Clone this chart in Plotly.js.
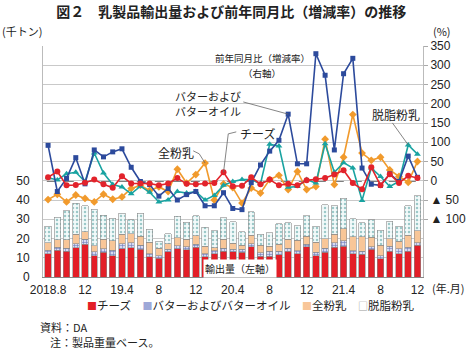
<!DOCTYPE html>
<html><head><meta charset="utf-8">
<script src="https://cdn.plot.ly/plotly-3.0.1.min.js"></script>
<style>html,body{margin:0;padding:0;background:#fff}</style>
</head><body>
<div id="chart" style="width:467px;height:350px"></div>
<script>
// months 2018.8 - 2021.12
const categories = ["2018.08","2018.09","2018.10","2018.11","2018.12",
"2019.01","2019.02","2019.03","2019.04","2019.05","2019.06","2019.07","2019.08","2019.09","2019.10","2019.11","2019.12",
"2020.01","2020.02","2020.03","2020.04","2020.05","2020.06","2020.07","2020.08","2020.09","2020.10","2020.11","2020.12",
"2021.01","2021.02","2021.03","2021.04","2021.05","2021.06","2021.07","2021.08","2021.09","2021.10","2021.11","2021.12"];
const tickCats = ["2018.08","2018.12","2019.04","2019.08","2019.12","2020.04","2020.08","2020.12","2021.04","2021.08","2021.12"];
const tickLabels = ["2018.8","12","19.4","8","12","20.4","8","12","21.4","8","12"];

// export volume (thousand tonnes), stacked
const cheeseVol = [12,14,13.5,15.2,17,11,12.9,11,14.7,15.3,14.5,10.5,9.7,13,14.8,14.2,15.5,10.5,12.2,13.4,13,12.9,15.7,10.9,10.9,11.6,13.4,12.1,15.7,11,12.9,15.5,16,12.2,11.9,14.3,9.5,13.4,12.1,13.4,16.4];
const butterVol = [2,1.5,1.5,2,2.5,2,1.8,3,2.5,2.5,2,1.5,1.3,1.5,1.5,1.5,1.5,1.5,1.5,1.5,1.5,1.5,1.5,1.8,2.5,1.8,1.5,1.5,1.2,1.8,2,2.2,2.8,1.5,1.5,1.5,1.5,2.5,2.5,2,1.5];
const wholeVol  = [3.8,3.8,4.3,5.1,4,3.2,4.8,4.8,5,4.8,4.7,6.1,4,2.9,4,3.8,4.5,4,1.5,4.6,3,2,4.4,3.7,2.6,3.7,4.6,5.5,4.3,5.3,5.1,4.4,6.2,7.2,7.5,4.9,5.4,4.1,4,6.2,6.2];
const skimVol   = [8.5,11.7,15.1,15.9,13.5,19,12.5,11.7,11,7.1,12,6.6,3.5,5,11.3,8.9,10.3,9.8,8.8,11.2,11.1,7,12.2,5.7,6.9,10.5,8.6,7.6,10.7,8.3,17.6,15,16,9.4,7.2,9,7.9,9,7.8,15.5,18.1];

// year-on-year change (%)
const cheeseYoY = [9,24,-12,-11,-5,3,-9,-18,12,-7,-7,-7,-12,-7,7,-8,-9,-7,-6,22,-14,-13,9,-9,3,-12,-8,-12,1,4,7,16,27,-6,-22,35,-12,17,-6,13,7];
const butterYoY = [92,-28,6,60,-8,80,62,75,83,35,-2,-10,-40,-20,-50,-36,-28,-65,-65,-31,-72,-75,-5,41,77,105,173,44,44,330,274,80,278,318,33,-9,-12,18,-2,64,9];
const wholeYoY  = [-49,-35,-55,-37,-46,-55,-35,-48,-42,-20,-12,-25,-16,-28,30,-6,16,46,-50,-8,-18,-58,-19,-32,3,14,-23,24,-23,-15,108,-10,61,172,72,53,61,28,11,-4,50];
const skimYoY   = [8,2,18,22,-2,72,20,-10,-16,-34,-14,-30,-55,-50,-28,-32,-28,-50,-38,-12,-2,3,3,-8,95,90,-17,-15,3,-6,96,22,47,33,-51,33,11,-15,-2,93,69];

const seriesNames = ["チーズ","バターおよびバターオイル","全粉乳","脱脂粉乳"];

const FONT = "Liberation Sans, Arial, Noto Sans CJK JP, sans-serif";
const JFONT = "Noto Sans CJK JP, sans-serif";
const C_RED = "#e2232b", C_BLUE = "#2c4a9c", C_ORANGE = "#f19a2c", C_TEAL = "#19a3a1";

const barLine = {color:"#8a8a8a", width:0.6};
const traces = [
  {type:"bar", x:categories, y:cheeseVol, name:seriesNames[0], marker:{color:"#e31e27", line:barLine}, showlegend:false},
  {type:"bar", x:categories, y:butterVol, name:seriesNames[1], marker:{color:"#c2c8e6", line:barLine, pattern:{shape:"+", fgcolor:"#6f7cba", bgcolor:"#d6daf0", size:3, solidity:0.35}}, showlegend:false},
  {type:"bar", x:categories, y:wholeVol, name:seriesNames[2], marker:{color:"#f8c698", line:barLine}, showlegend:false},
  {type:"bar", x:categories, y:skimVol, name:seriesNames[3], marker:{color:"#eef7f7", line:barLine, pattern:{shape:".", fgcolor:"#9cc9c9", bgcolor:"#f3fafa", size:4, solidity:0.3}}, showlegend:false},
  {type:"scatter", mode:"lines+markers", x:categories, y:wholeYoY, yaxis:"y2", line:{color:C_ORANGE, width:1.6}, marker:{symbol:"diamond", size:6, color:C_ORANGE}, showlegend:false},
  {type:"scatter", mode:"lines+markers", x:categories, y:skimYoY, yaxis:"y2", line:{color:C_TEAL, width:1.6}, marker:{symbol:"triangle-up", size:6, color:C_TEAL}, showlegend:false},
  {type:"scatter", mode:"lines+markers", x:categories, y:butterYoY, yaxis:"y2", line:{color:C_BLUE, width:1.6}, marker:{symbol:"square", size:5, color:C_BLUE}, showlegend:false},
  {type:"scatter", mode:"lines+markers", x:categories, y:cheeseYoY, yaxis:"y2", line:{color:C_RED, width:1.6}, marker:{symbol:"circle", size:6, color:C_RED}, showlegend:false}
];

// pixel helpers for label placement (plot area 43..423 x 46..277)
const PX = px => (px-43)/380, PY = py => (277-py)/231;
const XI = px => (px-48)/9.225, YV = py => (181-py)/0.386;

function txt(px, py, text, size, anchor, extra) {
  return Object.assign({xref:"paper", yref:"paper", x:PX(px), y:PY(py), text:text, showarrow:false,
    xanchor:anchor||"center", yanchor:"middle", font:{family:JFONT, size:size, color:"#222"}}, extra||{});
}
const annotations = [
  txt(0, 31, "(千トン)", 11, "left"),
  txt(453, 31, "(%)", 11, "right"),
  txt(467, 288, "(年.月)", 11, "right"),
  txt(262, 58, "前年同月比（増減率）", 9.5),
  txt(262, 73, "（右軸）", 9.5),
  txt(173, 96, "バターおよび", 11, "left"),
  txt(173, 111, "バターオイル", 11, "left"),
  txt(238, 133, "チーズ", 12, "left"),
  txt(156, 152, "全粉乳", 12, "left"),
  txt(370, 114, "脱脂粉乳", 12, "left"),
  txt(240, 268, "輸出量（左軸）", 10, "center", {bgcolor:"#ffffff", borderpad:1}),
  txt(250, 305, '<span style="color:#e31e27;font-size:10px">■</span>チーズ　<span style="color:#9ea8d8;font-size:10px">■</span>バターおよびバターオイル　<span style="color:#f8c698;font-size:10px">■</span>全粉乳　<span style="color:#999;font-size:10px">□</span>脱脂粉乳', 11.5),
  txt(38, 327, "資料：DA", 11, "left"),
  txt(48, 342, "注：製品重量ベース。", 11, "left")
];

const ldr = {color:"#666", width:0.8};
const shapes = [
  {type:"line", xref:"paper", yref:"y2", x0:0.01, x1:0.99, y0:0, y1:0, line:{color:"#000", width:1.6, dash:"dash"}, layer:"below"},
  {type:"line", xref:"x", yref:"y2", x0:XI(243), y0:YV(102), x1:26, y1:butterYoY[26], line:ldr},
  {type:"line", xref:"x", yref:"y2", x0:XI(236), y0:YV(132), x1:XI(228), y1:YV(134), line:ldr},
  {type:"line", xref:"x", yref:"y2", x0:XI(228), y0:YV(134), x1:19, y1:cheeseYoY[19], line:ldr},
  {type:"line", xref:"x", yref:"y2", x0:XI(193), y0:YV(151), x1:XI(199), y1:YV(154), line:ldr},
  {type:"line", xref:"x", yref:"y2", x0:XI(199), y0:YV(154), x1:17, y1:wholeYoY[17], line:ldr},
  {type:"line", xref:"x", yref:"y2", x0:XI(392), y0:YV(123), x1:39, y1:skimYoY[39], line:ldr}
];

const layout = {
  width:467, height:350,
  margin:{l:43, r:44, t:46, b:73, pad:0},
  paper_bgcolor:"#fff", plot_bgcolor:"#fff",
  font:{family:FONT, size:12, color:"#222"},
  title:{text:"図２　乳製品輸出量および前年同月比（増減率）の推移", x:0.495, xref:"container", y:0.965, yref:"container", yanchor:"middle",
         font:{family:JFONT, size:14, color:"#222", weight:"bold"}},
  barmode:"stack", bargap:0.3,
  showlegend:false,
  xaxis:{type:"category", categoryorder:"array", categoryarray:categories, range:[-0.55, 40.6],
         tickvals:tickCats, ticktext:tickLabels, tickangle:0, tickfont:{family:FONT, size:12, color:"#222"},
         showline:true, linecolor:"#888", linewidth:1, ticks:"", showgrid:false, zeroline:false, ticklabelstandoff:2},
  yaxis:{range:[0,120], tickvals:[0,10,20,30,40,50], tickfont:{family:FONT, size:12, color:"#222"},
         showgrid:true, gridcolor:"#c9c9c9", gridwidth:1, zeroline:false, showline:true, linecolor:"#bbb", ticks:"", ticklabelstandoff:10},
  yaxis2:{overlaying:"y", side:"right", range:[-250,350],
          tickvals:[350,300,250,200,150,100,50,0,-50,-100],
          ticktext:["350","300","250","200","150","100","50","0","▲ 50","▲ 100"],
          tickfont:{family:FONT, size:12, color:"#222"},
          showgrid:true, gridcolor:"#c9c9c9", gridwidth:1, zeroline:false, showline:true, linecolor:"#bbb",
          ticks:"outside", ticklen:4, tickcolor:"#aaa"},
  annotations:annotations,
  shapes:shapes
};

Plotly.newPlot("chart", traces, layout, {displayModeBar:false, staticPlot:true});
</script>
</body></html>
